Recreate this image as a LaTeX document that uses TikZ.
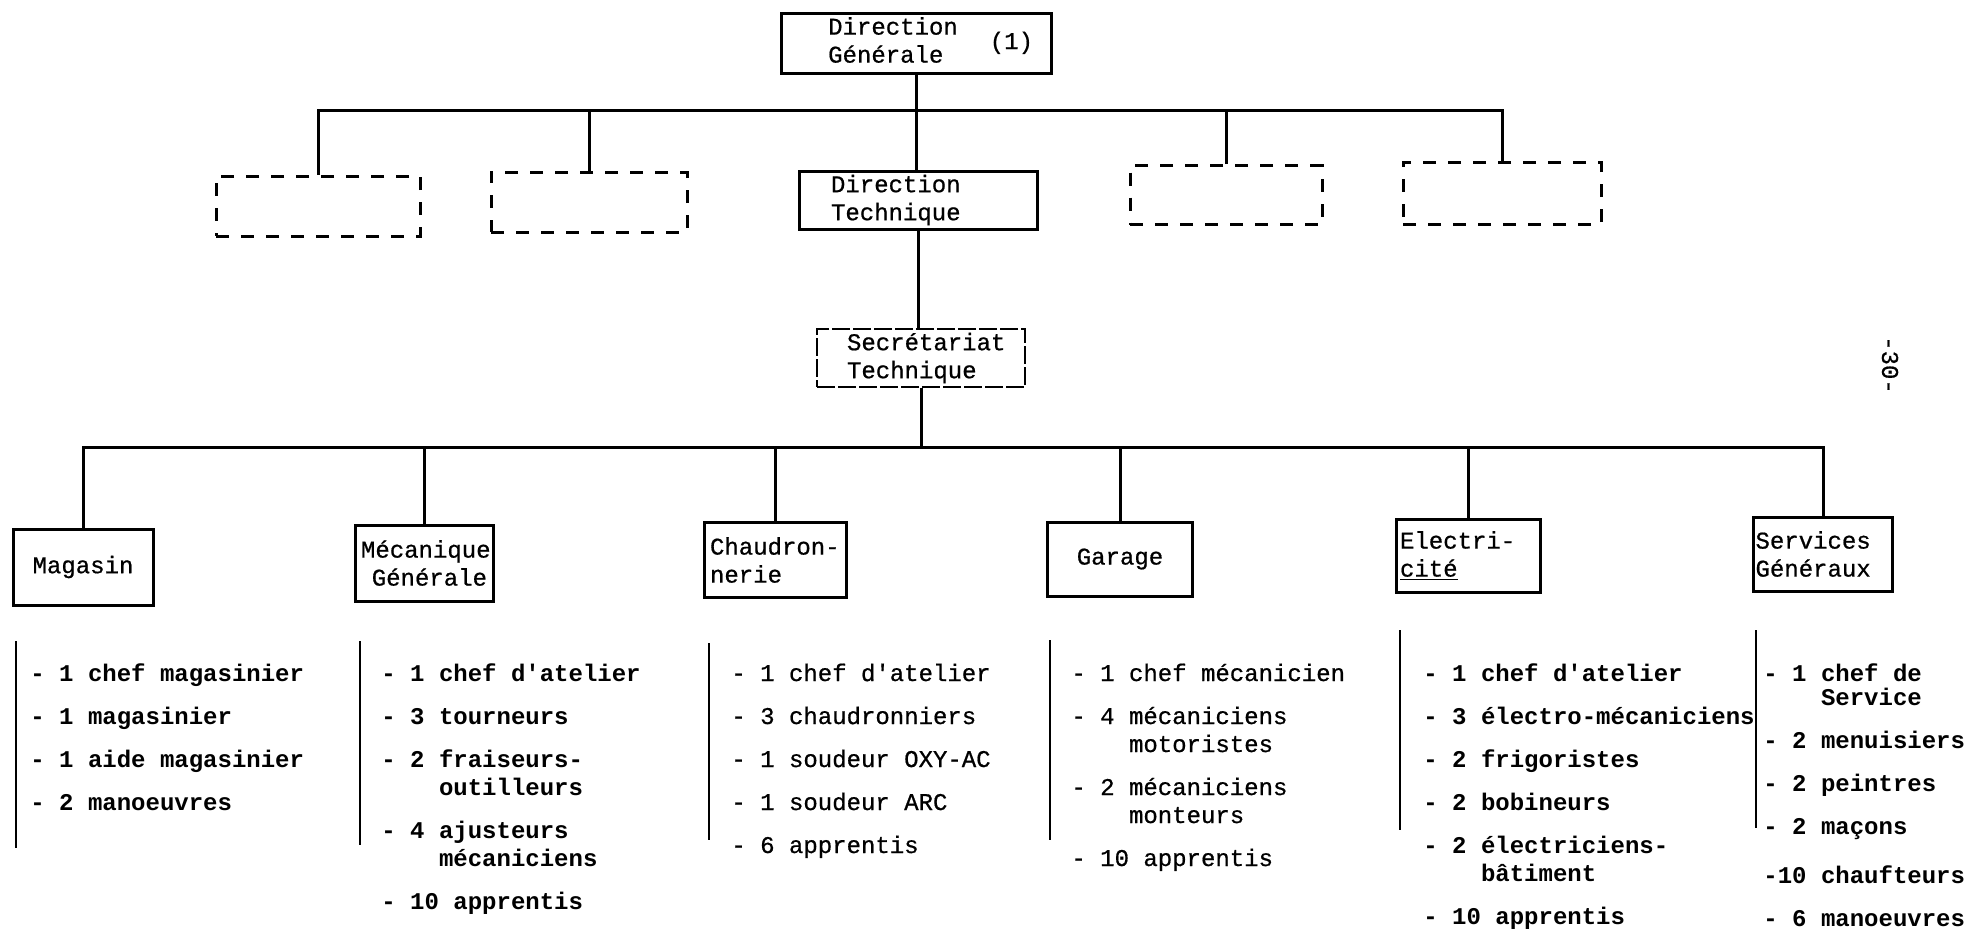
\documentclass[tikz,border=0pt]{standalone}
\usepackage{fontspec}
\setmainfont{Liberation Mono}
\newfontfamily\medfont{Liberation Mono}[FakeBold=0.7]
\newcommand{\cont}{\hspace*{2.4em}}

\begin{document}
\begin{tikzpicture}
[x=0.5pt,y=-0.5pt,%
  lineDecorate/.style={-,line width=1.5pt},%
  boxDecorate/.style={draw,line width=1.5pt,inner ysep=0pt,align=left,font=\medfont},%
  ghostDecorate/.style={draw,line width=1.5pt,dash pattern=on 6.5pt off 6pt},%
  secDecorate/.style={draw,line width=0.8pt,dash pattern=on 9pt off 1.5pt,inner ysep=0pt,align=left,font=\medfont},%
  staffDecorate/.style={anchor=base west,inner sep=0pt},%
  barDecorate/.style={-,line width=1.4pt}]
\fontsize{12}{14}\selectfont
\useasboundingbox (0,0) rectangle (1973,932);
%% direction nodes
\node[boxDecorate,align=right,text width=117pt,inner xsep=9pt,minimum height=30pt] (dg) at (916,43)
  {\begin{tabular}{@{}l@{}}Direction\\Générale\end{tabular}\hspace{16pt}(1)};
\node[boxDecorate,text width=87pt,inner xsep=16pt,minimum height=29pt] (dt) at (918,200) {Direction\\Technique};
\node[secDecorate,text width=74pt,inner xsep=15pt,minimum height=29pt] (st) at (921,358) {Secrétariat\\Technique};
%% empty boxes beside the technical direction
\foreach \nodename/\x/\y/\w/\h in {
  dv1/318/206/102pt/30pt, dv2/589/202/98pt/30pt,
  dv4/1226/195/96pt/29.5pt, dv5/1502/193/99pt/31pt}
{
  \node[ghostDecorate,minimum width=\w,minimum height=\h] (\nodename) at (\x,\y) {};
}
%% workshops
\node[boxDecorate,align=center,text width=66pt,inner xsep=2pt,minimum height=38pt] (mag) at (83,567) {Magasin};
\node[boxDecorate,align=right,text width=63pt,inner xsep=3pt,minimum height=38pt] (meg) at (424,563) {Mécanique\\Générale};
\node[boxDecorate,text width=65pt,inner xsep=3pt,minimum height=37.5pt] (chd) at (775,560) {Chaudron-\\nerie};
\node[boxDecorate,align=center,text width=68.5pt,inner xsep=2pt,minimum height=37pt] (gar) at (1120,559) {Garage};
\node[boxDecorate,text width=68pt,inner xsep=2pt,minimum height=36.5pt] (ele) at (1468,556) {Electri-\\\underline{cité}};
\node[boxDecorate,text width=67.5pt,inner xsep=1pt,minimum height=37pt] (sgx) at (1823,554) {Services\\Généraux};
%% edges
\coordinate (tbar) at (916,110);
\coordinate (lbar) at (921,447);
\draw[lineDecorate] (dg.south) -- (dg.south |- dt.north);
\draw[lineDecorate] (dv1.north) |- (tbar) -| (dv5.north);
\foreach \nodename in {dv2,dv4}
  \draw[lineDecorate] (\nodename.north) -- (\nodename.north |- tbar);
\draw[lineDecorate] (dt.south) -- (dt.south |- st.north);
\draw[lineDecorate] (st.south) -- (st.south |- lbar);
\draw[lineDecorate] (mag.north) |- (lbar) -| (sgx.north);
\foreach \nodename in {meg,chd,gar,ele}
  \draw[lineDecorate] (\nodename.north) -- (\nodename.north |- lbar);
%% staff lists
\foreach \x/\ya/\yb in {16/641/848, 360/641/845, 709/643/840,
  1050/640/840, 1400/630/830, 1756/630/828}
  \draw[barDecorate] (\x,\ya) -- (\x,\yb);
\node[staffDecorate,font=\bfseries] (lmag) at (30,681) {\begin{tabular}[t]{@{}l@{}}
  - 1 chef magasinier\\[7.5pt]
  - 1 magasinier\\[7.5pt]
  - 1 aide magasinier\\[7.5pt]
  - 2 manoeuvres\end{tabular}};
\node[staffDecorate,font=\bfseries] (lmeg) at (381,681) {\begin{tabular}[t]{@{}l@{}}
  - 1 chef d\textquotesingle atelier\\[7.5pt]
  - 3 tourneurs\\[7.5pt]
  - 2 fraiseurs-\\
  \cont outilleurs\\[7.5pt]
  - 4 ajusteurs\\
  \cont mécaniciens\\[7.5pt]
  - 10 apprentis\end{tabular}};
\node[staffDecorate,font=\medfont] (lchd) at (731,681) {\begin{tabular}[t]{@{}l@{}}
  - 1 chef d\textquotesingle atelier\\[7.5pt]
  - 3 chaudronniers\\[7.5pt]
  - 1 soudeur OXY-AC\\[7.5pt]
  - 1 soudeur ARC\\[7.5pt]
  - 6 apprentis\end{tabular}};
\node[staffDecorate,font=\medfont] (lgar) at (1071,681) {\begin{tabular}[t]{@{}l@{}}
  - 1 chef mécanicien\\[7.5pt]
  - 4 mécaniciens\\
  \cont motoristes\\[7.5pt]
  - 2 mécaniciens\\
  \cont monteurs\\[7.5pt]
  - 10 apprentis\end{tabular}};
\node[staffDecorate,font=\bfseries] (lele) at (1423,681) {\begin{tabular}[t]{@{}l@{}}
  - 1 chef d\textquotesingle atelier\\[7.5pt]
  - 3 électro-mécaniciens\\[7.5pt]
  - 2 frigoristes\\[7.5pt]
  - 2 bobineurs\\[7.5pt]
  - 2 électriciens-\\
  \cont bâtiment\\[7.5pt]
  - 10 apprentis\end{tabular}};
\node[staffDecorate,font=\bfseries] (lsgx) at (1763,681) {\begin{tabular}[t]{@{}l@{}}
  - 1 chef de\\[-2pt]
  \cont Service\\[7.5pt]
  - 2 menuisiers\\[7.5pt]
  - 2 peintres\\[7.5pt]
  - 2 maçons\\[10.5pt]
  -10 chaufteurs\\[7.5pt]
  - 6 manoeuvres\end{tabular}};
%% page number
\node[rotate=-90,font=\medfont] (folio) at (1890,365) {-30-};
\end{tikzpicture}
\end{document}
